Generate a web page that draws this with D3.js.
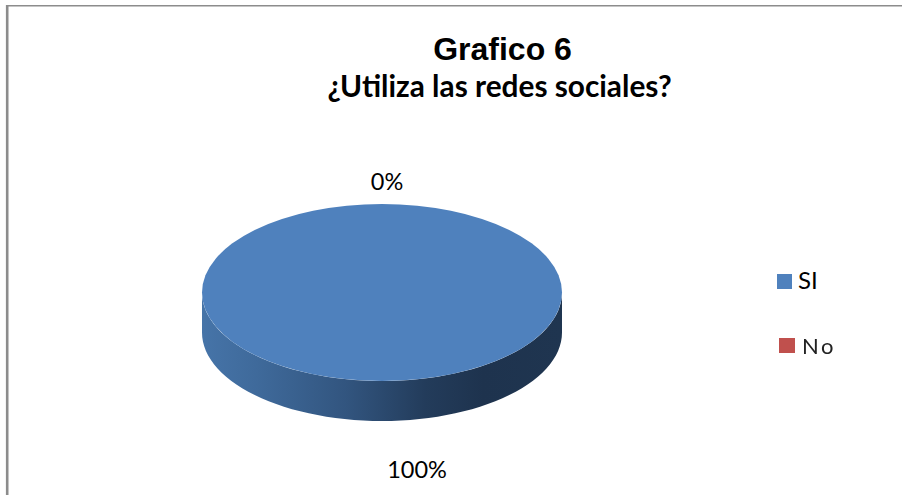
<!DOCTYPE html>
<html><head><meta charset="utf-8">
<script src="https://cdn.jsdelivr.net/npm/d3@7"></script>
<style>html,body{margin:0;padding:0;background:#fff}svg{display:block}</style>
</head><body><svg id="c" width="902" height="495"></svg>
<script>
const categories = ["SI", "No"];
const values = [100, 0];
const percentLabels = ["100%", "0%"];
const colors = ["#4f81bd", "#c0504d"];
const titleMain = "Grafico 6";
const titleSub = "¿Utiliza las redes sociales?";

const svg = d3.select("#c");
const defs = svg.append("defs");
const g = defs.append("linearGradient").attr("id","side").attr("gradientUnits","userSpaceOnUse")
  .attr("x1",202).attr("x2",562).attr("y1",0).attr("y2",0);
[[0,"#4674a8"],[0.15,"#3f6a9b"],[0.4,"#32557f"],[0.62,"#233c5b"],[0.78,"#1e334e"],[1,"#1f3550"]]
  .forEach(([o,c])=>g.append("stop").attr("offset",o).attr("stop-color",c));
defs.append("filter").attr("id","soft").append("feGaussianBlur").attr("stdDeviation",0.6);

// frame
svg.append("line").attr("x1",7.2).attr("x2",7.2).attr("y1",5).attr("y2",495).attr("stroke","#8c8c8c").attr("stroke-width",2.6);
svg.append("line").attr("x1",6).attr("x2",902).attr("y1",5.8).attr("y2",5.8).attr("stroke","#8c8c8c").attr("stroke-width",1.6);

// pie geometry
const cx=382, cy=292.5, rx=180, ry=88.5, depth=40;
const sx=d3.scaleLinear().domain([-1,1]).range([cx-rx,cx+rx]);
const sy=d3.scaleLinear().domain([-1,1]).range([cy-ry,cy+ry]);
const slices=d3.pie().sort(null).value(d=>d)(values);
const angles=d3.range(0,181,3).map(d=>d*Math.PI/180);
const wall=d3.area().x(a=>sx(Math.cos(a))).y0(a=>sy(Math.sin(a))).y1(a=>sy(Math.sin(a))+depth);
svg.append("path").datum(angles).attr("d",wall).attr("fill","url(#side)");

const arc=d3.arc().innerRadius(0).outerRadius(1);
svg.append("g").attr("transform",`translate(${cx},${cy}) scale(${rx},${ry})`)
  .selectAll("path").data(slices).join("path")
  .attr("d",arc).attr("fill",(d,i)=>colors[i]);

// titles
svg.append("text").text(titleMain).attr("x",502.5).attr("y",60).attr("text-anchor","middle")
  .attr("font-family","Liberation Sans").attr("font-weight",700).attr("font-size",32).attr("fill","#000");
svg.append("text").text(titleSub).attr("x",499.5).attr("y",97).attr("text-anchor","middle")
  .attr("font-family","Lato").attr("font-weight",700).attr("font-size",29.8).attr("fill","#000");

// data labels
const labelPos=[[417,478],[387,190]];
svg.selectAll("text.lab").data(percentLabels).join("text").attr("class","lab").text(d=>d)
  .attr("x",(d,i)=>labelPos[i][0]).attr("y",(d,i)=>labelPos[i][1]).attr("text-anchor","middle")
  .attr("font-family","Lato").attr("font-size",23.5).attr("fill","#000");

// legend
const leg=[[777,274],[779,338]];
const lg=svg.selectAll("g.leg").data(categories).join("g").attr("class","leg");
lg.append("rect").attr("x",(d,i)=>leg[i][0]).attr("y",(d,i)=>leg[i][1]).attr("width",(d,i)=>i?16:15).attr("height",15)
  .attr("fill",(d,i)=>colors[i]);
lg.append("text").text(d=>d).attr("x",(d,i)=>i?802:798).attr("y",(d,i)=>i?354:289)
  .attr("font-family","Lato").attr("fill",(d,i)=>i?"#222":"#000")
  .attr("letter-spacing",(d,i)=>i?2.5:0).attr("font-size",(d,i)=>i?22:24)
  .attr("filter",(d,i)=>i?"url(#soft)":null);
</script></body></html>
